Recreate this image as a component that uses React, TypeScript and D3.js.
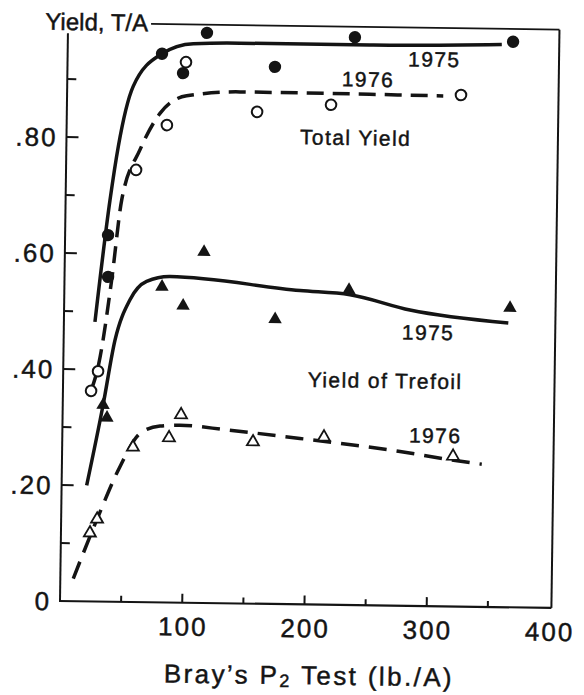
import React from 'react';
import * as d3 from 'd3';

const W = 584;
const H = 695;

// axis ticks
const xMajor = [100, 200, 300, 400];
const xMinor = [50, 150, 250, 350];
const yMajor = [0, 0.2, 0.4, 0.6, 0.8];
const yMinor = [0.1, 0.3, 0.5, 0.7, 0.9];
const yLabels = ['0', '.20', '.40', '.60', '.80'];

// observed points [P2 test, yield]
const total1975 = [[35.1, 0.632], [35.6, 0.56], [77.2, 0.946], [94.6, 0.913], [113.7, 0.983], [169.7, 0.926], [234.8, 0.979], [364.2, 0.975]];
const total1976 = [[23, 0.363], [28.5, 0.397], [57.3, 0.745], [82, 0.823], [96.9, 0.932], [155.6, 0.848], [216, 0.862], [322.2, 0.882]];
const trefoil1975 = [[33, 0.339], [36.3, 0.317], [79.8, 0.544], [97.3, 0.512], [113.8, 0.605], [172.7, 0.491], [232.8, 0.543], [364.7, 0.516]];
const trefoil1976 = [[23.7, 0.118], [29.4, 0.142], [57.9, 0.267], [87.3, 0.284], [96.9, 0.324], [156, 0.279], [214, 0.289], [319.8, 0.259]];

// fitted curves
const total1975Fit = [[25.4, 0.482], [36.3, 0.692], [42.5, 0.785], [54, 0.889], [77.2, 0.946], [102.7, 0.964], [140.9, 0.966], [250, 0.966], [355, 0.97]];
const total1976Fit = [[23, 0.363], [29, 0.41], [38.6, 0.555], [45.9, 0.693], [60.3, 0.78], [76.2, 0.843], [97.8, 0.874], [141.4, 0.882], [307.7, 0.88]];
const trefoil1975Fit = [[20.5, 0.2], [33, 0.339], [42, 0.451], [53.8, 0.521], [67.2, 0.553], [86.3, 0.562], [192.8, 0.541], [233.7, 0.535], [282.9, 0.51], [363.5, 0.49]];
const trefoil1976Fit = [[10.6, 0.039], [29.4, 0.142], [47.5, 0.233], [63.6, 0.291], [79.8, 0.304], [96, 0.306], [134.4, 0.299], [194.4, 0.286], [276.4, 0.266], [317.4, 0.253], [343.4, 0.246]];

// in-plot labels [x, y, text]
const plotLabels = [
  [300, 0.93, '1975'],
  [246, 0.894, '1976'],
  [236.5, 0.793, 'Total Yield'],
  [298, 0.459, '1975'],
  [263.4, 0.375, 'Yield of Trefoil'],
  [305, 0.2815, '1976'],
];

const FONT = "'Liberation Sans', Arial, Helvetica, sans-serif";
const INK = '#141414';

export default function App() {
  const x = d3.scaleLinear().domain([0, 400]).range([60, 549]);
  const y = d3.scaleLinear().domain([0, 1]).range([601, 21]);

  const line = d3.line<number[]>()
    .x(d => x(d[0]))
    .y(d => y(d[1]))
    .curve(d3.curveMonotoneX);

  const tri = d3.symbol().type(d3.symbolTriangle);
  const triFilled = tri.size(78)() as string;
  const triOpen = tri.size(62)() as string;

  const frameTop = 0.997;
  const frameRight = 402;
  const axisTop = 0.979;

  return (
    <svg width={W} height={H} style={{ position: 'absolute', left: 0, top: 0, background: '#fff' }}
      fontFamily={FONT}>
      <rect width={W} height={H} fill="#fff" />
      <g transform="rotate(0.8 60 601)" stroke={INK} fill="none">
        {/* frame and axes */}
        <line x1={x(0)} x2={x(0)} y1={y(axisTop)} y2={y(0)} strokeWidth={2} />
        <line x1={x(0) - 1} x2={x(frameRight)} y1={y(0)} y2={y(0)} strokeWidth={2.2} />
        <line x1={x(frameRight)} x2={x(frameRight)} y1={y(frameTop)} y2={y(0)} strokeWidth={2} />
        <line x1={143} x2={x(frameRight)} y1={y(frameTop)} y2={y(frameTop)} strokeWidth={1.8} />

        {xMajor.filter(v => v < frameRight - 5).map(v => (
          <line key={'xm' + v} x1={x(v)} x2={x(v)} y1={y(0)} y2={y(0) - 9} strokeWidth={2} />
        ))}
        {xMinor.map(v => (
          <line key={'xn' + v} x1={x(v)} x2={x(v)} y1={y(0)} y2={y(0) - 6} strokeWidth={2} />
        ))}
        {yMajor.filter(v => v > 0).map(v => (
          <line key={'ym' + v} x1={x(0)} x2={x(0) + 12} y1={y(v)} y2={y(v)} strokeWidth={2} />
        ))}
        {yMinor.map(v => (
          <line key={'yn' + v} x1={x(0)} x2={x(0) + 9} y1={y(v)} y2={y(v)} strokeWidth={2} />
        ))}

        {/* curves */}
        <path d={line(total1975Fit) as string} strokeWidth={3.5} />
        <path d={line(total1976Fit) as string} strokeWidth={3.5} strokeDasharray="17 9" />
        <path d={line(trefoil1975Fit) as string} strokeWidth={3.5} />
        <path d={line(trefoil1976Fit) as string} strokeWidth={3.5} strokeDasharray="18 10" />

        {/* markers */}
        {total1975.map((d, i) => (
          <circle key={'t75' + i} cx={x(d[0])} cy={y(d[1])} r={6.2} fill={INK} stroke="none" />
        ))}
        {total1976.map((d, i) => (
          <circle key={'t76' + i} cx={x(d[0])} cy={y(d[1])} r={5.3} fill="#fff" strokeWidth={2} />
        ))}
        {trefoil1975.map((d, i) => (
          <path key={'f75' + i} d={triFilled} transform={`translate(${x(d[0])},${y(d[1])})`} fill={INK} stroke="none" />
        ))}
        {trefoil1976.map((d, i) => (
          <path key={'f76' + i} d={triOpen} transform={`translate(${x(d[0])},${y(d[1])})`} fill="#fff" strokeWidth={1.8} />
        ))}

        {/* text */}
        <g fill={INK} stroke={INK} strokeWidth={0.45}>
          {yMajor.map((v, i) => (
            <text key={'yl' + v} x={x(0) - 9} y={y(v)} dy="0.36em" textAnchor="end"
              fontSize={26} letterSpacing={2}>{yLabels[i]}</text>
          ))}
          {xMajor.map(v => (
            <text key={'xl' + v} x={x(v) + 1} y={y(0) + 33} textAnchor="middle"
              fontSize={26} letterSpacing={2}>{v}</text>
          ))}
          <text x={140} y={30} textAnchor="end" fontSize={24}>Yield, T/A</text>
          {plotLabels.map((d, i) => (
            <text key={'pl' + i} x={x(d[0] as number)} y={y(d[1] as number)} textAnchor="middle"
              fontSize={21} letterSpacing={1.4}>{d[2]}</text>
          ))}
          <text x={310} y={681} textAnchor="middle" fontSize={26} letterSpacing={2.4}>
            Bray’s P<tspan fontSize={18} dy={3}>2</tspan><tspan dy={-3}> Test (lb./A)</tspan>
          </text>
        </g>
      </g>
    </svg>
  );
}
